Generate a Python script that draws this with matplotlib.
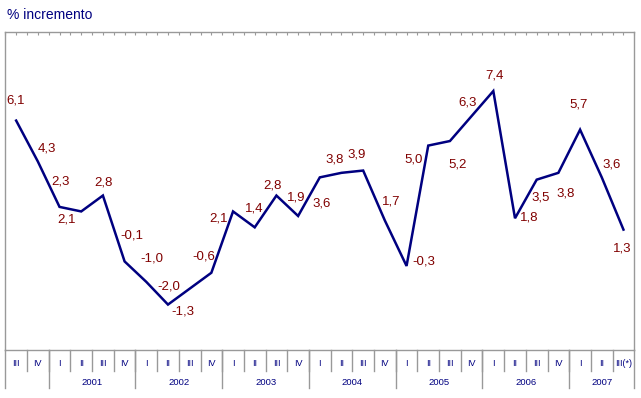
import matplotlib
matplotlib.use("Agg")
import matplotlib.pyplot as plt
import matplotlib.transforms as mtransforms
import numpy as np

# ---- data ----
quarters = ["III", "IV",
            "I", "II", "III", "IV",
            "I", "II", "III", "IV",
            "I", "II", "III", "IV",
            "I", "II", "III", "IV",
            "I", "II", "III", "IV",
            "I", "II", "III", "IV",
            "I", "II", "III(*)"]
values = [6.1, 4.3, 2.3, 2.1, 2.8, -0.1, -1.0, -2.0, -1.3, -0.6,
          2.1, 1.4, 2.8, 1.9, 3.6, 3.8, 3.9, 1.7, -0.3, 5.0,
          5.2, 6.3, 7.4, 1.8, 3.5, 3.8, 5.7, 3.6, 1.3]
years = ["2001", "2002", "2003", "2004", "2005", "2006", "2007"]
year_first_idx = [2, 6, 10, 14, 18, 22, 26]
year_len = [4, 4, 4, 4, 4, 4, 3]

# label offsets (pixels, x right / y up) relative to each point
label_offsets = [(-1, 20), (9, 13), (0.5, 25.5), (-15, -8.5), (1, 13),
                 (7.7, 26), (5.4, 23.6), (1.3, 17.7), (-7, -23.2), (-7.4, 16),
                 (-14.7, -7.1), (-0.7, 18.7), (-3.7, 10.3), (-2, 18.4), (2.2, -25.8),
                 (-6.5, 13), (-6.5, 15.7), (6.8, 19.5), (17.4, 4.2), (-14.3, -14.4),
                 (7.3, -23), (-4.4, 13.8), (1, 15.5), (14, 0.6), (4, -17.5),
                 (7.6, -20.3), (-1.8, 25), (10, 13), (-1.5, -18.7)]

W, H = 641, 398
fig = plt.figure(figsize=(W / 100, H / 100), dpi=100)
left_px, right_px, top_px, bot_px = 5.3, 634.3, 32, 350
ax = fig.add_axes([left_px / W, 1 - bot_px / H, (right_px - left_px) / W, (bot_px - top_px) / H])

font = "Liberation Sans"
navy = "#000080"
dred = "#800000"
grey = "#999999"

n = len(values)
x = np.arange(n)
ax.plot(x, values, color=navy, lw=1.8, solid_joinstyle="miter", zorder=3)
ax.set_xlim(-0.5, n - 0.5)
ax.set_ylim(-4, 10)
ax.set_yticks([])

for i, (v, off) in enumerate(zip(values, label_offsets)):
    ax.annotate(f"{v:.1f}".replace(".", ","), (i, v), xytext=off,
                textcoords="offset pixels", ha="center", va="center",
                color=dred, fontsize=9.5, family=font, zorder=4)

for s in ["top", "left", "right", "bottom"]:
    ax.spines[s].set_color(grey)
    ax.spines[s].set_linewidth(1.0)

# top small ticks
ax.set_xticks(np.arange(-0.5, n, 0.5))
ax.tick_params(axis="x", which="both", bottom=False, top=True, direction="in",
               length=2, color=grey, labelbottom=False, labeltop=False)

trans = mtransforms.blended_transform_factory(ax.transData, fig.transFigure)
def fy(px):
    return 1 - px / H

# quarter separators and labels
for k in range(1, n):
    ax.plot([k - 0.5, k - 0.5], [fy(bot_px), fy(370.7)], transform=trans,
            color=grey, lw=1.0, clip_on=False)
for i, q in enumerate(quarters):
    ax.text(i, fy(363.5), q, transform=trans, ha="center", va="center",
            color=navy, fontsize=6.5, family=font)

# year separators (full height) and labels
borders = [-0.5, 1.5] + [f + l - 0.5 for f, l in zip(year_first_idx, year_len)]
for b in borders:
    ax.plot([b, b], [fy(bot_px), fy(388)], transform=trans,
            color=grey, lw=1.0, clip_on=False)
for yname, f, l in zip(years, year_first_idx, year_len):
    ax.text(f + (l - 1) / 2, fy(382.5), yname, transform=trans, ha="center",
            va="center", color=navy, fontsize=6.8, family=font)

fig.text(7 / W, fy(15), "% incremento", ha="left", va="center",
         color=navy, fontsize=10, family=font)

fig.savefig("out.png", dpi=100)
